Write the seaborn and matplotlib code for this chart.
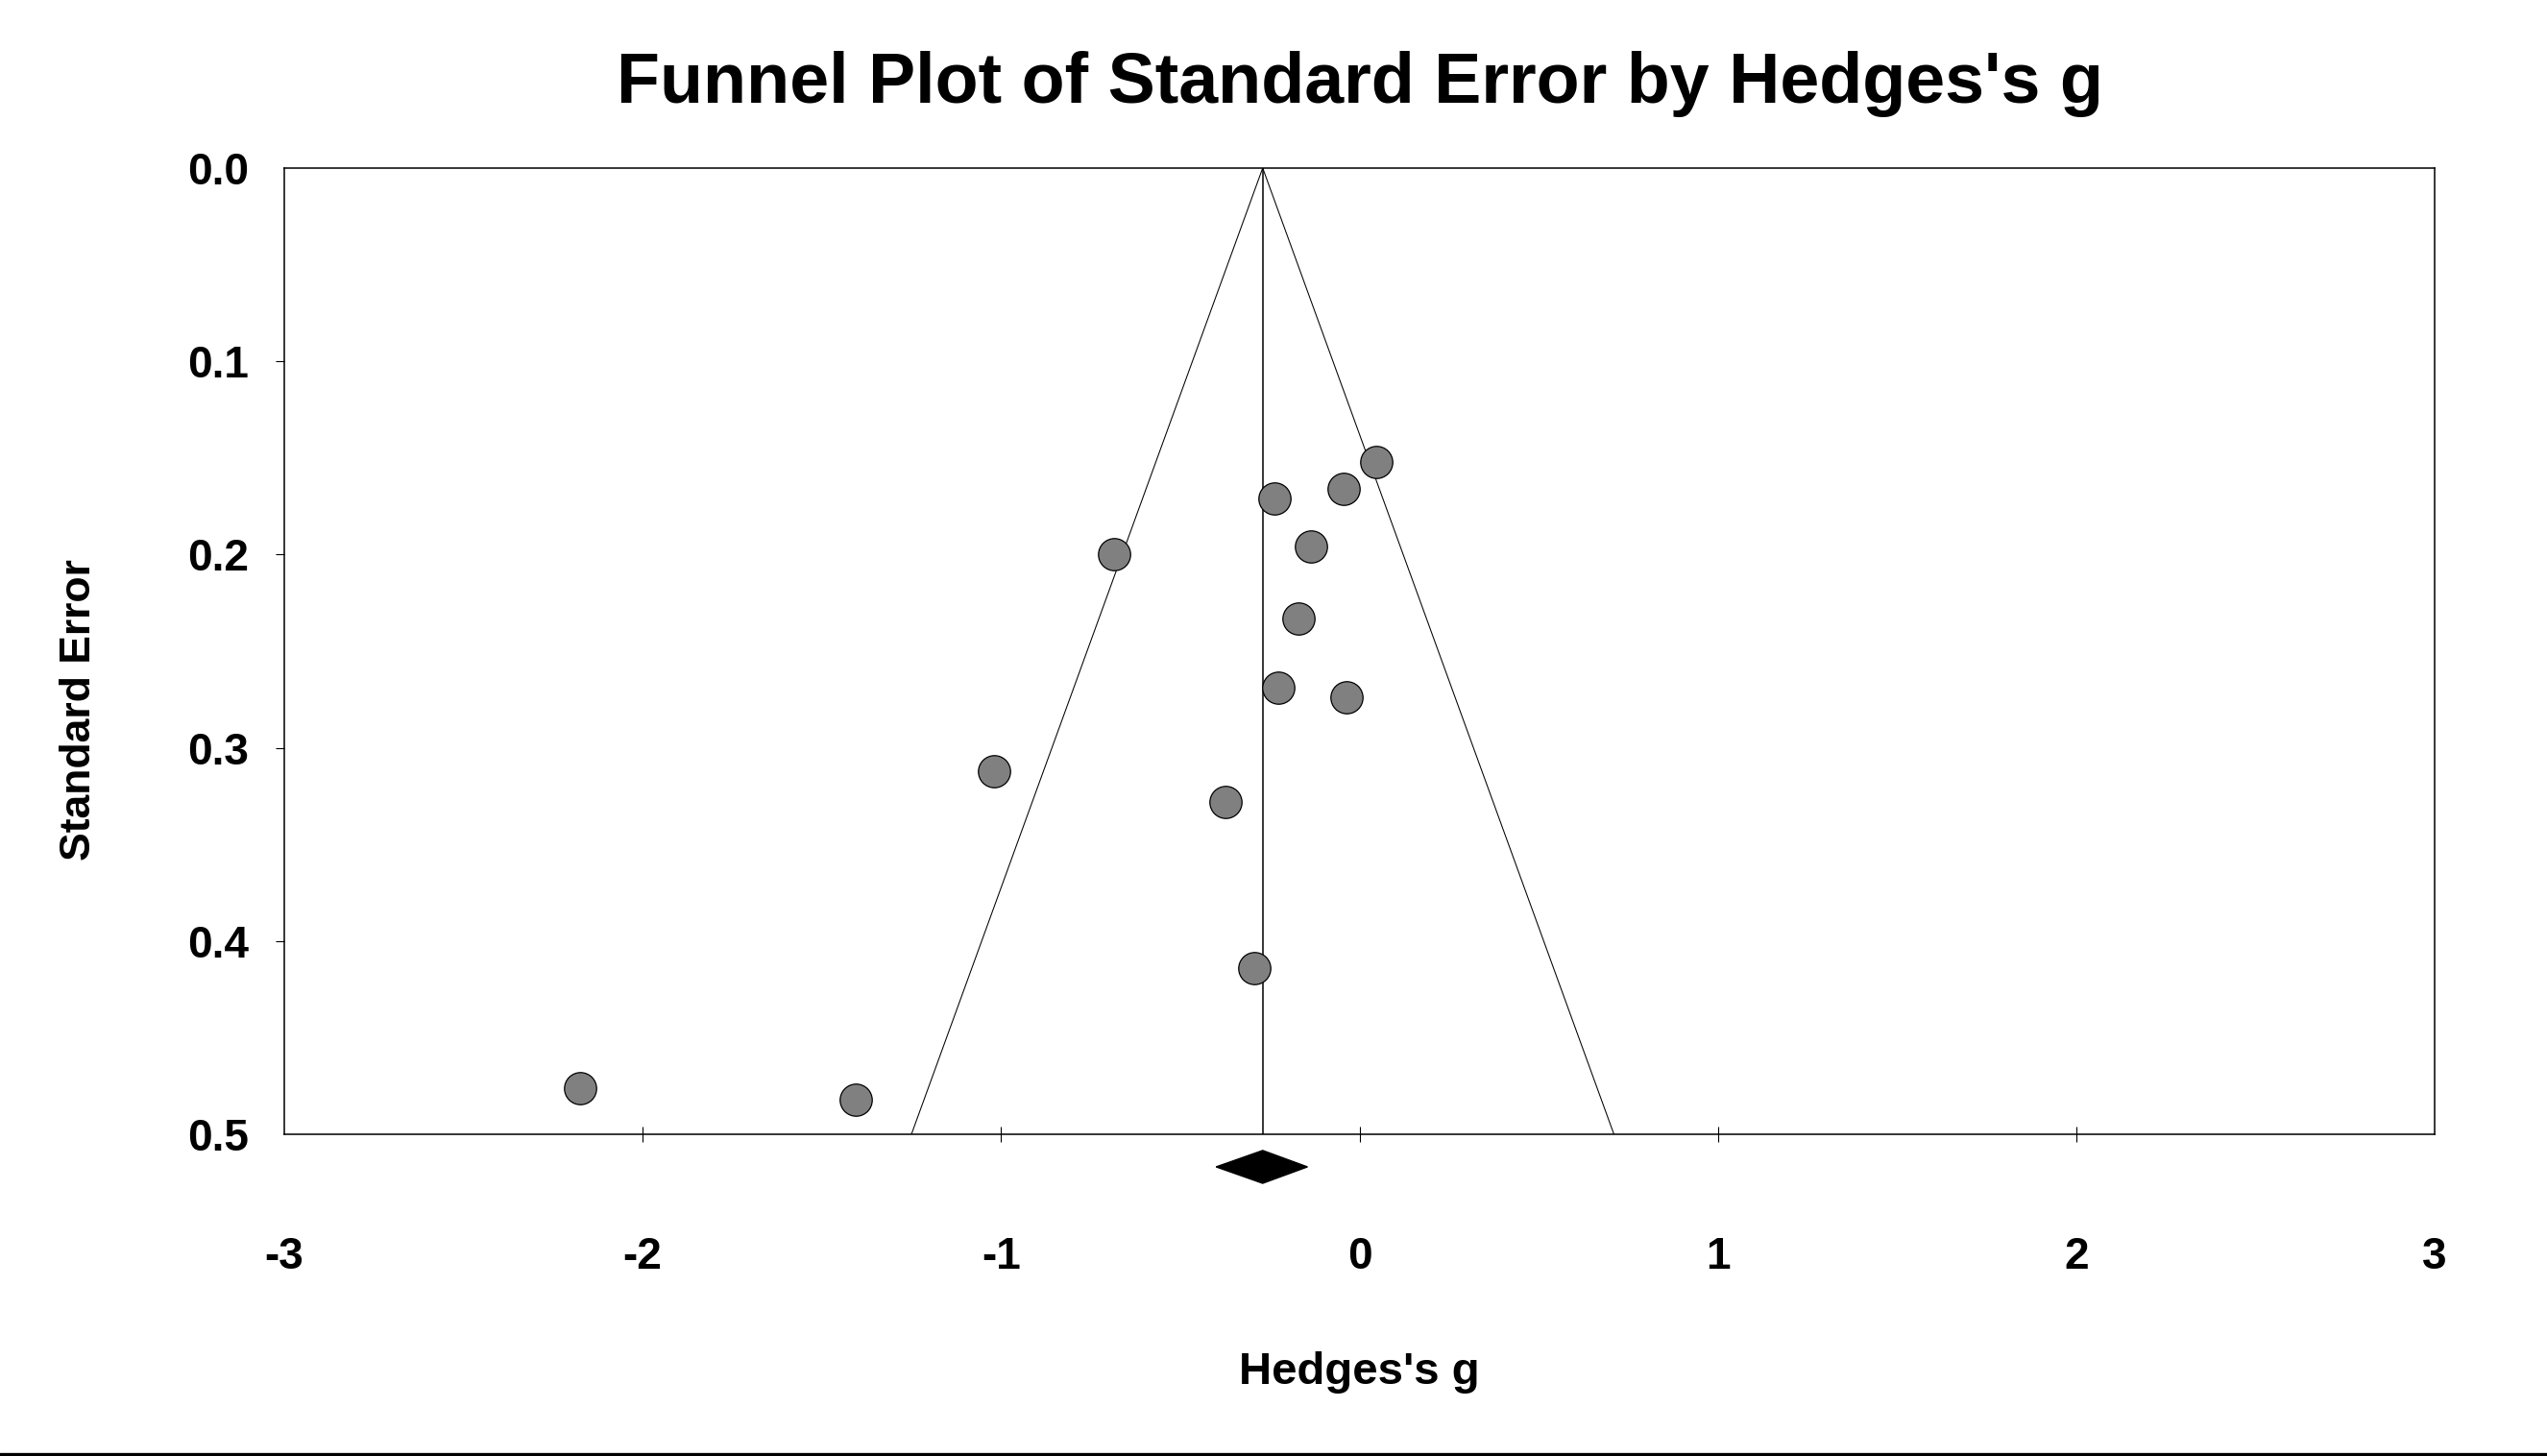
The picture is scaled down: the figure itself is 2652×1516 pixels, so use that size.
import numpy as np
import pandas as pd
import seaborn as sns
from matplotlib import pyplot as plt
from matplotlib.lines import Line2D
from matplotlib.patches import Polygon

# Study effects (Hedges's g) and standard errors
hedges_g = [0.046, -0.045, -0.238, -0.686, -0.134, -0.170, -0.227, -0.035,
            -1.019, -0.375, -0.294, -2.174, -1.405]
std_err = [0.152, 0.166, 0.171, 0.200, 0.196, 0.233, 0.269, 0.274,
           0.312, 0.328, 0.414, 0.476, 0.482]

# Summary estimate (diamond) and funnel limits
pooled_g = -0.27
pooled_lo = -0.40
pooled_hi = -0.145
se_max = 0.5
z = 1.96

x_ticks = [-3, -2, -1, 0, 1, 2, 3]
y_ticks = [0.0, 0.1, 0.2, 0.3, 0.4, 0.5]

sns.set_theme(style='white')
plt.rcParams['font.family'] = ['Liberation Sans', 'DejaVu Sans']
plt.rcParams['font.weight'] = 'bold'

fig = plt.figure(figsize=(26.52, 15.16), dpi=100)
ax = fig.add_axes([0.1116, 0.2210, 0.8443, 0.6636])

# funnel
funnel = pd.DataFrame({
    'g': [pooled_g - z * se_max, pooled_g, pooled_g + z * se_max],
    'se': [se_max, 0.0, se_max],
})
ax.plot(funnel['g'], funnel['se'], color='black', lw=0.75)
ax.plot([pooled_g, pooled_g], [0.0, se_max], color='black', lw=1.1)

df = pd.DataFrame({'g': hedges_g, 'se': std_err})
sns.scatterplot(data=df, x='g', y='se', ax=ax, s=580, color='#808080',
                edgecolor='black', linewidth=0.9, zorder=3)

# summary diamond below the axis
dy = 0.0169
dh = 0.0085
yc = se_max + dy
diamond = Polygon([[pooled_lo, yc], [pooled_g, yc - dh], [pooled_hi, yc], [pooled_g, yc + dh]],
                  closed=True, facecolor='black', edgecolor='black', clip_on=False)
ax.add_patch(diamond)

ax.set_xlim(-3, 3)
ax.set_ylim(0.5, 0.0)
ax.set_xticks(x_ticks)
ax.set_yticks(y_ticks)
ax.set_xticklabels([str(t) for t in x_ticks])
ax.set_yticklabels(['%.1f' % t for t in y_ticks])

for sp in ax.spines.values():
    sp.set_visible(True)
    sp.set_color('black')
    sp.set_linewidth(1.1)

ax.tick_params(axis='x', direction='inout', length=11, width=0.8, pad=71,
               labelsize=33, bottom=True, colors='black')
ax.tick_params(axis='y', direction='out', length=6.5, width=0.8, pad=20,
               labelsize=33, left=True, colors='black')
for lab in ax.get_xticklabels() + ax.get_yticklabels():
    lab.set_fontweight('bold')
for tks in (ax.xaxis.get_major_ticks(), ax.yaxis.get_major_ticks()):
    tks[0].tick1line.set_visible(False)
    tks[-1].tick1line.set_visible(False)

ax.set_title("Funnel Plot of Standard Error by Hedges's g", fontsize=53,
             fontweight='bold', pad=49, color='black')
ax.set_xlabel("Hedges's g", fontsize=34, fontweight='bold', color='black', va='baseline')
ax.xaxis.set_label_coords(0.4998, -0.258)
ax.set_ylabel('Standard Error', fontsize=32, fontweight='bold', color='black', va='center')
ax.yaxis.set_label_coords(-0.0952, 0.439)

fig.add_artist(Line2D([0, 1], [0.0013, 0.0013], transform=fig.transFigure,
                      color='black', lw=2.4))

fig.savefig('out.png', dpi=100, facecolor='white')
